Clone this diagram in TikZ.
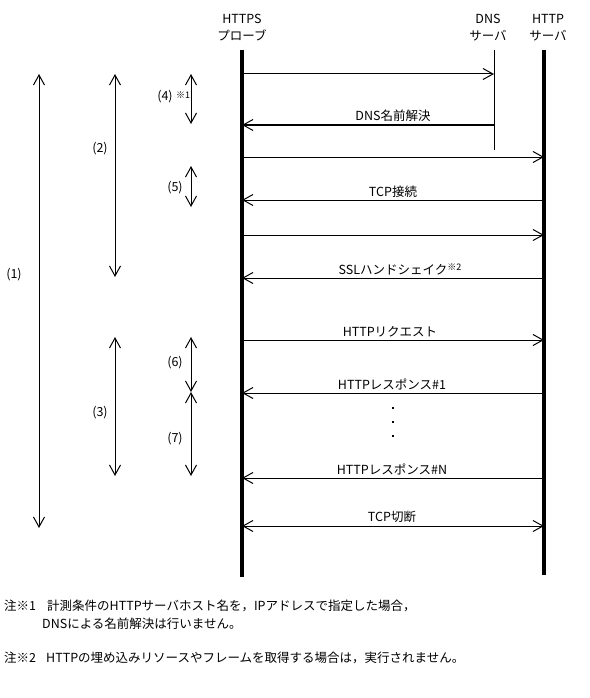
\documentclass[tikz,border=0pt]{standalone}
\usepackage{fontspec}
\setmainfont{Noto Sans CJK JP}
\usetikzlibrary{arrows.meta}
\begin{document}
\begin{tikzpicture}[x=1pt,y=-1pt,
  txt/.style={font=\fontsize{12.5}{17}\selectfont, inner sep=0pt},
  hdr/.style={txt, align=center},
  lbl/.style={txt, anchor=base},
  sup/.style={font=\fontsize{9}{9}\selectfont, inner sep=0pt},
  thick life/.style={line width=3.5pt},
  thin life/.style={line width=1pt},
  tip/.tip={Straight Barb[length=10pt,width=11pt]},
  msg/.style={line width=1pt, -tip},
  bmsg/.style={line width=1pt, tip-tip},
  span/.style={line width=1pt, tip-tip},
  dot/.style={fill=black, minimum size=2.2pt, inner sep=0pt}]
\useasboundingbox (0,0) rectangle (589,698);

% headers
\node[hdr] (hprobe) at (242,27.5) {HTTPS\\プローブ};
\node[hdr] (hdns) at (488,27.5) {DNS\\サーバ};
\node[hdr] (hhttp) at (548,27.5) {HTTP\\サーバ};

% lifelines
\coordinate (pT) at (242,50); \coordinate (pB) at (242,577);
\coordinate (dT) at (494,50); \coordinate (dB) at (494,150);
\coordinate (hT) at (544,50); \coordinate (hB) at (544,575);
\draw[thick life] (pT) -- (pB);
\draw[thin life] (dT) -- (dB);
\draw[thick life] (hT) -- (hB);

% message end points
\foreach \n/\y in {1/74,2/125,3/157,4/200,5/235,6/278,7/340,8/393,10/478,11/526}{
  \coordinate (p\n) at (242,\y);
  \coordinate (h\n) at (544,\y);
}
\coordinate (d1) at (494,74);
\coordinate (d2) at (494,125);

\draw[msg] (p1) -- (d1);
\draw[msg] (d2) -- (p2);
\draw[msg] (p3) -- (h3);
\draw[msg] (h4) -- (p4);
\draw[msg] (p5) -- (h5);
\draw[msg] (h6) -- (p6);
\draw[msg] (p7) -- (h7);
\draw[msg] (h8) -- (p8);
\draw[msg] (h10) -- (p10);
\draw[bmsg] (p11) -- (h11);

% message labels
\node[lbl] (t2) at (393,121) {DNS名前解決};
\node[lbl] (t4) at (393,196) {TCP接続};
\node[lbl] (t6) at (400,274) {SSLハンドシェイク\raisebox{4pt}{\fontsize{9}{9}\selectfont ※2}};
\node[lbl] (t7) at (390,336) {HTTPリクエスト};
\node[lbl] (t8) at (392,389) {HTTPレスポンス\#1};
\node[lbl] (t10) at (392,474) {HTTPレスポンス\#N};
\node[lbl] (t11) at (392,521) {TCP切断};

% dots
\node[dot] (dotA) at (393,408) {};
\node[dot] (dotB) at (393,422) {};
\node[dot] (dotC) at (393,436) {};

% measurement spans
\coordinate (s1a) at (39,74);  \coordinate (s1b) at (39,528);
\coordinate (s2a) at (115,74); \coordinate (s2b) at (115,277);
\coordinate (s3a) at (115,337); \coordinate (s3b) at (115,476);
\coordinate (s4a) at (191,74); \coordinate (s4b) at (191,124);
\coordinate (s5a) at (191,166); \coordinate (s5b) at (191,207);
\coordinate (s6a) at (191,337); \coordinate (s6b) at (191,392);
\coordinate (s7a) at (191,392); \coordinate (s7b) at (191,476);
\draw[span] (s1a) -- (s1b);
\draw[span] (s2a) -- (s2b);
\draw[span] (s3a) -- (s3b);
\draw[span] (s4a) -- (s4b);
\draw[span] (s5a) -- (s5b);
\draw[span] (s6a) -- (s6b);
\draw[span] (s7a) -- (s7b);

\node[txt] (c1) at (14,275) {(1)};
\node[txt] (c2) at (100,149) {(2)};
\node[txt] (c3) at (100,413) {(3)};
\node[txt] (c4) at (165,97) {(4)};
\node[sup] (c4n) at (183,95) {※1};
\node[txt] (c5) at (175,188) {(5)};
\node[txt] (c6) at (175,363) {(6)};
\node[txt] (c7) at (175,439) {(7)};

% notes
\node[txt, anchor=base west] (n1h) at (4,610) {注※1};
\node[txt, anchor=base west] (n1a) at (47,610) {計測条件のHTTPサーバホスト名を，IPアドレスで指定した場合，};
\node[txt, anchor=base west] (n1b) at (42,628) {DNSによる名前解決は行いません。};
\node[txt, anchor=base west] (n2h) at (4,662) {注※2};
\node[txt, anchor=base west] (n2a) at (46,662) {HTTPの埋め込みリソースやフレームを取得する場合は，実行されません。};
\end{tikzpicture}
\end{document}
